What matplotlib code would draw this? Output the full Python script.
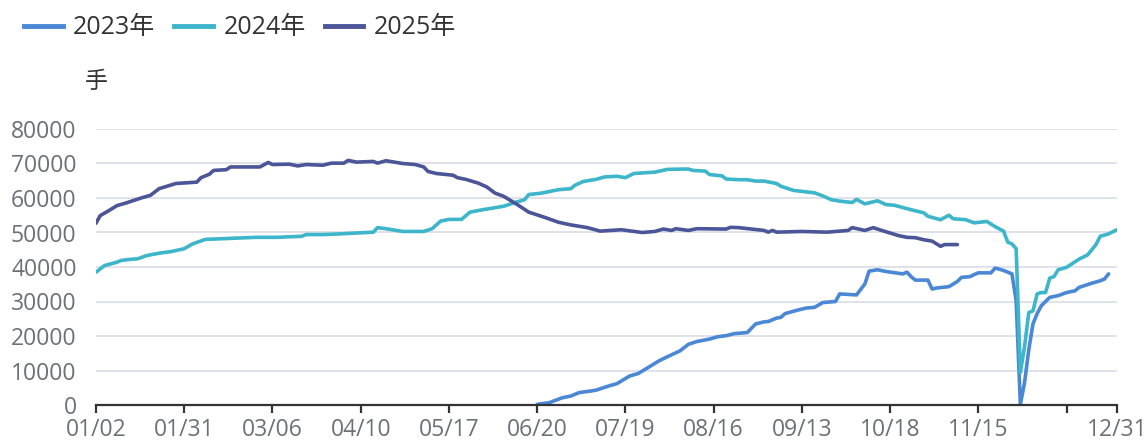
import matplotlib
matplotlib.use("Agg")
import matplotlib.pyplot as plt
from matplotlib.lines import Line2D

plt.rcParams['font.family'] = ['Open Sans', 'Noto Sans CJK SC', 'DejaVu Sans']

# ---- data (trading-day index, value in 手) ----
tick_labels = ["01/02", "01/31", "03/06", "04/10", "05/17", "06/20", "07/19",
               "08/16", "09/13", "10/18", "11/15", "", "12/31"]
tick_days = [0, 21, 42, 63, 84, 105, 126, 147, 168, 189, 210, 231, 243]

days_2023 = [105, 108, 109, 111, 113, 115, 118, 119, 122, 124, 127, 129, 132, 134, 136,
             139, 141, 143, 146, 148, 150, 152, 155, 157, 159, 160, 162, 163, 164, 167,
             169, 171, 173, 176, 177, 181, 183, 184, 186, 188, 192, 193, 194, 195, 198,
             199, 200, 203, 205, 206, 208, 209, 210, 213, 214, 216, 218, 219, 220, 221,
             222, 223, 224, 225, 227, 229, 231, 233, 234, 237, 239, 240, 241]
vals_2023 = [200, 700, 1200, 2100, 2600, 3600, 4100, 4300, 5500, 6200, 8400, 9100, 11300,
             12800, 14000, 15700, 17600, 18400, 19100, 19800, 20100, 20700, 21000, 23500,
             24100, 24200, 25200, 25400, 26500, 27500, 28100, 28300, 29700, 30000, 32200,
             31900, 35100, 38800, 39200, 38700, 38000, 38500, 37200, 36200, 36200, 33600,
             33900, 34300, 35800, 37000, 37200, 37800, 38300, 38300, 39700, 39000, 38000,
             30200, 200, 6500, 16000, 23500, 26500, 28800, 31200, 31700, 32600, 33100,
             34100, 35300, 36000, 36500, 38000]

days_2024 = [0, 2, 5, 6, 8, 10, 12, 15, 18, 21, 23, 26, 32, 38, 43, 49, 50, 54, 58, 66,
             67, 69, 73, 78, 80, 82, 84, 87, 89, 92, 95, 97, 100, 102, 103, 106, 110, 113,
             114, 116, 119, 121, 124, 126, 128, 133, 136, 141, 142, 145, 146, 149, 150,
             153, 155, 157, 159, 162, 163, 166, 171, 173, 175, 177, 180, 181, 183, 186,
             188, 190, 194, 197, 198, 201, 203, 204, 207, 209, 212, 214, 216, 217, 218,
             219, 220, 221, 222, 223, 224, 225, 226, 227, 228, 229, 231, 234, 236, 238,
             239, 241, 243]
vals_2024 = [38500, 40400, 41400, 41900, 42200, 42400, 43300, 44000, 44500, 45300, 46700,
             48000, 48300, 48600, 48600, 48900, 49400, 49400, 49600, 50100, 51400, 51100,
             50300, 50300, 51100, 53300, 53800, 53800, 55900, 56600, 57200, 57600, 58800,
             59500, 61000, 61400, 62400, 62700, 63700, 64800, 65400, 66100, 66300, 65900,
             67100, 67500, 68300, 68400, 68000, 67800, 66800, 66400, 65500, 65300, 65300,
             64900, 64900, 64200, 63400, 62200, 61500, 60600, 59500, 59100, 58700, 59600,
             58300, 59200, 58100, 57900, 56600, 55700, 54700, 53700, 55000, 54000, 53700,
             52800, 53200, 51700, 50400, 47200, 46700, 45300, 9400, 17000, 26800, 27300,
             32200, 32600, 32600, 36800, 37200, 39200, 39900, 42300, 43500, 46500, 48900,
             49600, 50800]

days_2025 = [0, 1, 3, 5, 7, 9, 11, 13, 15, 19, 24, 25, 27, 28, 31, 32, 39, 41, 42, 46,
             48, 50, 54, 56, 59, 60, 62, 66, 67, 69, 73, 76, 78, 79, 81, 85, 86, 88, 91,
             93, 95, 97, 100, 103, 107, 110, 113, 117, 120, 125, 130, 133, 135, 137, 138,
             141, 143, 150, 151, 153, 159, 160, 161, 162, 168, 174, 179, 180, 183, 185,
             187, 191, 193, 195, 197, 199, 201, 202, 205]
vals_2025 = [52700, 54900, 56300, 57800, 58500, 59300, 60100, 60800, 62700, 64200, 64600,
             65900, 66900, 68000, 68200, 69000, 69000, 70300, 69700, 69800, 69300, 69700,
             69500, 70100, 70100, 70900, 70400, 70600, 70100, 70800, 70000, 69700, 69000,
             67700, 67100, 66600, 65900, 65400, 64300, 63200, 61400, 60500, 58300, 55900,
             54300, 53000, 52200, 51400, 50400, 50800, 50000, 50300, 51000, 50600, 51100,
             50600, 51100, 51000, 51500, 51400, 50600, 50100, 50600, 50100, 50300, 50100,
             50600, 51400, 50600, 51400, 50600, 49100, 48600, 48500, 47900, 47500, 46000,
             46500, 46500]

series = [("2023年", days_2023, vals_2023, "#4A88D6"),
          ("2024年", days_2024, vals_2024, "#3DB5CA"),
          ("2025年", days_2025, vals_2025, "#4B5597")]

W, H = 1148, 444
fig = plt.figure(figsize=(W / 100, H / 100), dpi=100)
ax = fig.add_axes([96 / W, (H - 405) / H, (1117 - 96) / W, (405 - 129) / H])

for name, d, v, c in series:
    ax.plot(d, v, color=c, lw=2.6, solid_joinstyle='round', solid_capstyle='round',
            zorder=3)

ax.set_xlim(0, 243)
ax.set_ylim(0, 80000)
ax.set_yticks(range(0, 80001, 10000))
ax.set_yticklabels([str(t) for t in range(0, 80001, 10000)])
ax.set_xticks(tick_days)
ax.set_xticklabels(tick_labels)

for s in ['top', 'right', 'left']:
    ax.spines[s].set_visible(False)
ax.spines['bottom'].set_color('#333333')
ax.spines['bottom'].set_linewidth(1.6)
ax.spines['bottom'].set_zorder(4)

ax.grid(axis='y', color='#D9DBE7', lw=1.2, zorder=1)
ax.tick_params(axis='y', length=0, pad=14, labelsize=16.5, labelcolor='#6E7079')
ax.tick_params(axis='x', length=6, width=1.6, color='#333333', pad=3,
               labelsize=16.5, labelcolor='#6E7079')

fig.text(96 / W, 1 - 82 / H, "手", ha='center', va='center', fontsize=16.5,
         color='#333333')

handles = [Line2D([], [], color=c, lw=3.5) for _, _, _, c in series]
labels = [n for n, _, _, _ in series]
fig.legend(handles, labels, loc='center left', bbox_to_anchor=(24 / W, 1 - 28 / H),
           ncol=3, frameon=False, fontsize=18, handlelength=1.55, handletextpad=0.42,
           columnspacing=0.75, borderpad=0, borderaxespad=0, labelcolor='#333333')

fig.savefig("out.png", dpi=100)
